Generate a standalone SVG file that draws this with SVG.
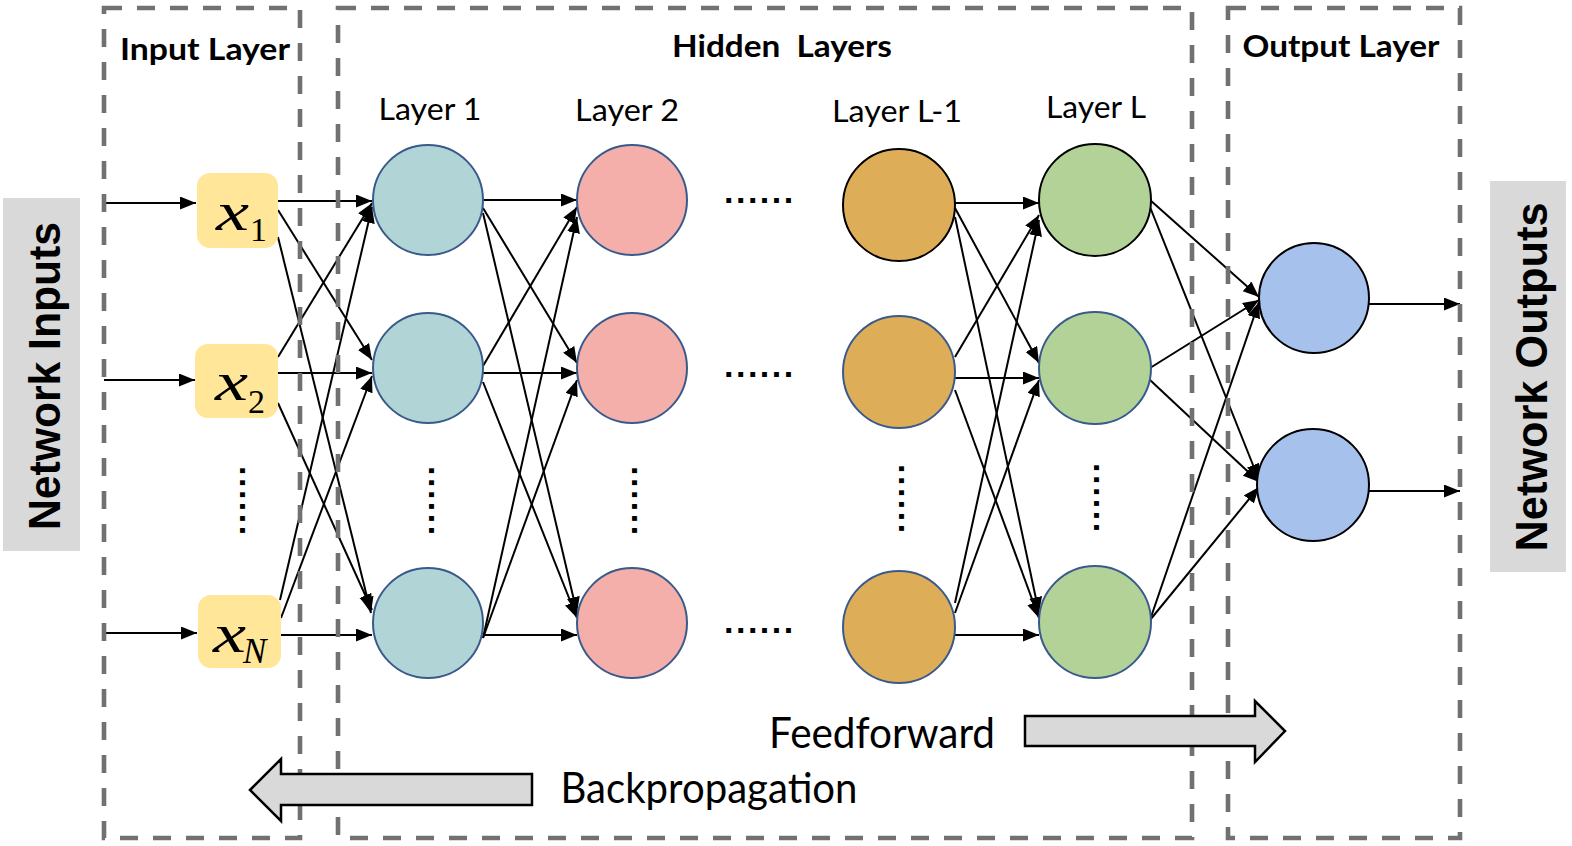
<svg xmlns="http://www.w3.org/2000/svg" width="1572" height="846" viewBox="0 0 1572 846">
<style>
.box{fill:none;stroke:#737070;stroke-width:4.6;stroke-dasharray:18 15}
.e{stroke:#000;stroke-width:2;fill:none;marker-end:url(#ah)}
.title{font-family:"Lato","Liberation Sans",sans-serif;font-weight:bold;font-size:30px;fill:#000}
.lbl{font-family:"Lato","Liberation Sans",sans-serif;font-size:30px;fill:#000}
.big{font-family:"Lato","Liberation Sans",sans-serif;font-size:42px;fill:#000}
.side{font-family:"Liberation Sans",sans-serif;font-weight:bold;font-size:44px;fill:#000}
.dots{font-family:"Liberation Sans",sans-serif;font-weight:bold;font-size:34px;letter-spacing:2.5px;fill:#000}
.inp{fill:#FFE699}
.mx{font-family:"Liberation Serif","DejaVu Serif",serif;font-style:italic;font-size:54px;fill:#000}
.ms{font-family:"Liberation Serif","DejaVu Serif",serif;font-size:34px;fill:#000}
.l1{fill:#B1D5D6;stroke:#3A5A8C;stroke-width:2}
.l2{fill:#F4AFAB;stroke:#3A5A8C;stroke-width:2}
.l3{fill:#DEAD57;stroke:#3A5A8C;stroke-width:2}
.l4{fill:#B2D298;stroke:#3A5A8C;stroke-width:2}
.out{fill:#A5C1EC;stroke:#000;stroke-width:2}
.blk{stroke:#000}
.barrow{fill:#D9D9D9;stroke:#000;stroke-width:2.5}
</style>
<defs>
<marker id="ah" markerUnits="userSpaceOnUse" markerWidth="18" markerHeight="14" refX="16" refY="6.5" orient="auto">
<path d="M0,0 L16,6.5 L0,13 z" fill="#000"/>
</marker>
</defs>
<rect width="1572" height="846" fill="#fff"/>

<g id="side-labels">
<rect x="3" y="198" width="77" height="353" fill="#D9D9D9"/>
<text class="side" transform="translate(60,376) rotate(-90)" text-anchor="middle" textLength="308" lengthAdjust="spacingAndGlyphs">Network Inputs</text>
<rect x="1490" y="181" width="76" height="391" fill="#D9D9D9"/>
<text class="side" transform="translate(1547,377) rotate(-90)" text-anchor="middle" textLength="349" lengthAdjust="spacingAndGlyphs">Network Outputs</text>
</g>

<g id="connectors">
<line class="e" x1="104" y1="203" x2="196" y2="203"/>
<line class="e" x1="104" y1="380" x2="195" y2="380"/>
<line class="e" x1="104" y1="633" x2="197" y2="633"/>

<line class="e" x1="278" y1="201" x2="372" y2="201"/>
<line class="e" x1="278" y1="210" x2="372" y2="360"/>
<line class="e" x1="278" y1="237" x2="371" y2="613"/>
<line class="e" x1="278" y1="357" x2="372" y2="203"/>
<line class="e" x1="278" y1="373" x2="372" y2="373"/>
<line class="e" x1="278" y1="403" x2="372" y2="610"/>
<line class="e" x1="280" y1="600" x2="372" y2="207"/>
<line class="e" x1="281" y1="618" x2="372" y2="376"/>
<line class="e" x1="281" y1="635" x2="372" y2="635"/>

<line class="e" x1="483" y1="200" x2="577" y2="200"/>
<line class="e" x1="483" y1="208" x2="577" y2="363"/>
<line class="e" x1="483" y1="213" x2="577" y2="613"/>
<line class="e" x1="483" y1="366" x2="577" y2="207"/>
<line class="e" x1="483" y1="373" x2="577" y2="373"/>
<line class="e" x1="483" y1="382" x2="577" y2="618"/>
<line class="e" x1="483" y1="638" x2="577" y2="217"/>
<line class="e" x1="483" y1="638" x2="577" y2="380"/>
<line class="e" x1="483" y1="635" x2="577" y2="635"/>

<line class="e" x1="955" y1="203" x2="1039" y2="203"/>
<line class="e" x1="955" y1="208" x2="1039" y2="363"/>
<line class="e" x1="955" y1="217" x2="1039" y2="613"/>
<line class="e" x1="955" y1="357" x2="1039" y2="215"/>
<line class="e" x1="955" y1="378" x2="1039" y2="378"/>
<line class="e" x1="955" y1="390" x2="1039" y2="618"/>
<line class="e" x1="955" y1="603" x2="1039" y2="220"/>
<line class="e" x1="955" y1="613" x2="1039" y2="380"/>
<line class="e" x1="955" y1="635" x2="1039" y2="635"/>

<line class="e" x1="1150" y1="200" x2="1259" y2="297"/>
<line class="e" x1="1150" y1="207" x2="1259" y2="480"/>
<line class="e" x1="1150" y1="368" x2="1259" y2="300"/>
<line class="e" x1="1150" y1="380" x2="1259" y2="482"/>
<line class="e" x1="1150" y1="620" x2="1259" y2="302"/>
<line class="e" x1="1150" y1="620" x2="1259" y2="487"/>

<line class="e" x1="1369" y1="304" x2="1460" y2="304"/>
<line class="e" x1="1369" y1="491" x2="1460" y2="491"/>
</g>

<g id="layer-boxes">
<rect class="box" x="104" y="8" width="196" height="830"/>
<rect class="box" x="338" y="8" width="854" height="830"/>
<rect class="box" x="1228" y="8" width="232" height="830"/>
<text class="title" x="205" y="60" text-anchor="middle" textLength="170" lengthAdjust="spacingAndGlyphs">Input Layer</text>
<text class="title" x="782" y="57" text-anchor="middle" textLength="220" lengthAdjust="spacingAndGlyphs" xml:space="preserve">Hidden  Layers</text>
<text class="title" x="1341" y="57" text-anchor="middle" textLength="197" lengthAdjust="spacingAndGlyphs">Output Layer</text>
</g>

<g id="input-layer">
<g id="x1"><rect class="inp" x="197" y="173" width="81" height="75" rx="13"/><text class="mx" x="216" y="230" textLength="33" lengthAdjust="spacingAndGlyphs">x</text><text class="ms" x="250" y="241">1</text></g>
<g id="x2"><rect class="inp" x="195" y="344" width="83" height="74" rx="13"/><text class="mx" x="215" y="400" textLength="33" lengthAdjust="spacingAndGlyphs">x</text><text class="ms" x="248" y="413">2</text></g>
<g id="xN"><rect class="inp" x="198" y="595" width="83" height="73" rx="13"/><text class="mx" x="213" y="652" textLength="33" lengthAdjust="spacingAndGlyphs">x</text><text class="mx" x="243" y="663" style="font-size:35px">N</text></g>
<text class="dots" transform="translate(240,466) rotate(90)">......</text>
</g>

<g id="layer-1">
<text class="lbl" x="430" y="120" text-anchor="middle" textLength="103" lengthAdjust="spacingAndGlyphs">Layer 1</text>
<circle class="l1" cx="428" cy="200" r="55"/>
<circle class="l1" cx="428" cy="368" r="55"/>
<circle class="l1" cx="428" cy="623" r="55"/>
<text class="dots" transform="translate(429,466) rotate(90)">......</text>
</g>

<g id="layer-2">
<text class="lbl" x="627" y="121" text-anchor="middle" textLength="104" lengthAdjust="spacingAndGlyphs">Layer 2</text>
<circle class="l2" cx="632" cy="200" r="55"/>
<circle class="l2" cx="632" cy="368" r="55"/>
<circle class="l2" cx="632" cy="623" r="55"/>
<text class="dots" transform="translate(632,466) rotate(90)">......</text>
</g>

<g id="gap-dots">
<text class="dots" x="724" y="203">......</text>
<text class="dots" x="724" y="377">......</text>
<text class="dots" x="724" y="633">......</text>
</g>

<g id="layer-L-1">
<text class="lbl" x="897" y="122" text-anchor="middle" textLength="130" lengthAdjust="spacingAndGlyphs">Layer L-1</text>
<circle class="l3 blk" cx="899" cy="205" r="56"/>
<circle class="l3" cx="899" cy="372" r="56"/>
<circle class="l3" cx="899" cy="627" r="56"/>
<text class="dots" transform="translate(899,464) rotate(90)">......</text>
</g>

<g id="layer-L">
<text class="lbl" x="1096" y="118" text-anchor="middle" textLength="100" lengthAdjust="spacingAndGlyphs">Layer L</text>
<circle class="l4 blk" cx="1095" cy="200" r="56"/>
<circle class="l4" cx="1095" cy="368" r="56"/>
<circle class="l4" cx="1095" cy="622" r="56"/>
<text class="dots" transform="translate(1094,463) rotate(90)">......</text>
</g>

<g id="output-layer">
<circle class="out" cx="1314" cy="298" r="55"/>
<circle class="out" cx="1313" cy="485" r="56"/>
</g>

<g id="direction-arrows">
<polygon class="barrow" points="1025,716 1255,716 1255,701 1285,731 1255,762 1255,746 1025,746"/>
<text class="big" x="882" y="748" text-anchor="middle" textLength="226" lengthAdjust="spacingAndGlyphs">Feedforward</text>
<polygon class="barrow" points="250,790 281,759 281,774 532,774 532,805 281,805 281,821"/>
<text class="big" x="709" y="803" text-anchor="middle" textLength="297" lengthAdjust="spacingAndGlyphs">Backpropagation</text>
</g>
</svg>
